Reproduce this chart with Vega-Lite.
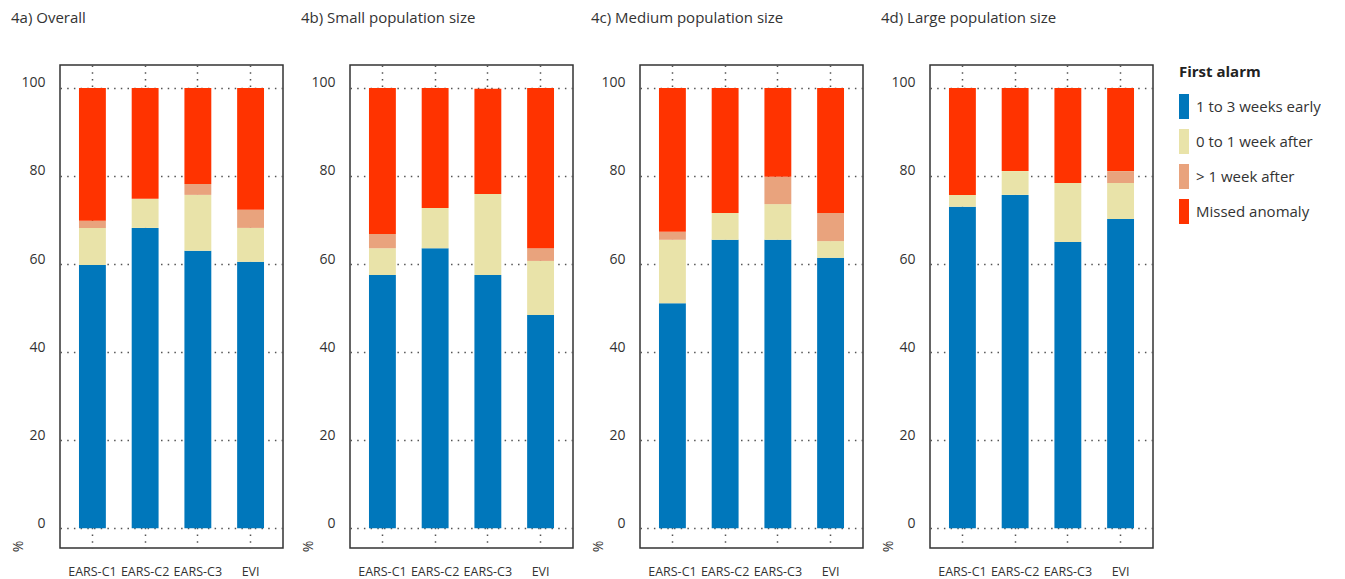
{
  "$schema": "https://vega.github.io/schema/vega-lite/v6.json",
  "autosize": {"type": "pad"},
  "padding": {"left": 10, "top": 10, "right": 0, "bottom": 0},
  "background": "white",
  "datasets": {
    "alarms": [
      {"panel": "a", "method": "EARS-C1", "cat": "1 to 3 weeks early", "ord": 1, "value": 59.8},
      {"panel": "a", "method": "EARS-C1", "cat": "0 to 1 week after", "ord": 2, "value": 8.4},
      {"panel": "a", "method": "EARS-C1", "cat": "> 1 week after", "ord": 3, "value": 1.6},
      {"panel": "a", "method": "EARS-C1", "cat": "Missed anomaly", "ord": 4, "value": 30.2},
      {"panel": "a", "method": "EARS-C2", "cat": "1 to 3 weeks early", "ord": 1, "value": 68.2},
      {"panel": "a", "method": "EARS-C2", "cat": "0 to 1 week after", "ord": 2, "value": 6.6},
      {"panel": "a", "method": "EARS-C2", "cat": "Missed anomaly", "ord": 4, "value": 25.2},
      {"panel": "a", "method": "EARS-C3", "cat": "1 to 3 weeks early", "ord": 1, "value": 63.0},
      {"panel": "a", "method": "EARS-C3", "cat": "0 to 1 week after", "ord": 2, "value": 12.7},
      {"panel": "a", "method": "EARS-C3", "cat": "> 1 week after", "ord": 3, "value": 2.5},
      {"panel": "a", "method": "EARS-C3", "cat": "Missed anomaly", "ord": 4, "value": 21.8},
      {"panel": "a", "method": "EVI", "cat": "1 to 3 weeks early", "ord": 1, "value": 60.5},
      {"panel": "a", "method": "EVI", "cat": "0 to 1 week after", "ord": 2, "value": 7.7},
      {"panel": "a", "method": "EVI", "cat": "> 1 week after", "ord": 3, "value": 4.1},
      {"panel": "a", "method": "EVI", "cat": "Missed anomaly", "ord": 4, "value": 27.7},

      {"panel": "b", "method": "EARS-C1", "cat": "1 to 3 weeks early", "ord": 1, "value": 57.5},
      {"panel": "b", "method": "EARS-C1", "cat": "0 to 1 week after", "ord": 2, "value": 6.1},
      {"panel": "b", "method": "EARS-C1", "cat": "> 1 week after", "ord": 3, "value": 3.2},
      {"panel": "b", "method": "EARS-C1", "cat": "Missed anomaly", "ord": 4, "value": 33.2},
      {"panel": "b", "method": "EARS-C2", "cat": "1 to 3 weeks early", "ord": 1, "value": 63.6},
      {"panel": "b", "method": "EARS-C2", "cat": "0 to 1 week after", "ord": 2, "value": 9.1},
      {"panel": "b", "method": "EARS-C2", "cat": "Missed anomaly", "ord": 4, "value": 27.3},
      {"panel": "b", "method": "EARS-C3", "cat": "1 to 3 weeks early", "ord": 1, "value": 57.5},
      {"panel": "b", "method": "EARS-C3", "cat": "0 to 1 week after", "ord": 2, "value": 18.4},
      {"panel": "b", "method": "EARS-C3", "cat": "Missed anomaly", "ord": 4, "value": 23.9},
      {"panel": "b", "method": "EVI", "cat": "1 to 3 weeks early", "ord": 1, "value": 48.4},
      {"panel": "b", "method": "EVI", "cat": "0 to 1 week after", "ord": 2, "value": 12.3},
      {"panel": "b", "method": "EVI", "cat": "> 1 week after", "ord": 3, "value": 2.9},
      {"panel": "b", "method": "EVI", "cat": "Missed anomaly", "ord": 4, "value": 36.4},

      {"panel": "c", "method": "EARS-C1", "cat": "1 to 3 weeks early", "ord": 1, "value": 51.1},
      {"panel": "c", "method": "EARS-C1", "cat": "0 to 1 week after", "ord": 2, "value": 14.4},
      {"panel": "c", "method": "EARS-C1", "cat": "> 1 week after", "ord": 3, "value": 1.8},
      {"panel": "c", "method": "EARS-C1", "cat": "Missed anomaly", "ord": 4, "value": 32.7},
      {"panel": "c", "method": "EARS-C2", "cat": "1 to 3 weeks early", "ord": 1, "value": 65.5},
      {"panel": "c", "method": "EARS-C2", "cat": "0 to 1 week after", "ord": 2, "value": 6.1},
      {"panel": "c", "method": "EARS-C2", "cat": "Missed anomaly", "ord": 4, "value": 28.4},
      {"panel": "c", "method": "EARS-C3", "cat": "1 to 3 weeks early", "ord": 1, "value": 65.5},
      {"panel": "c", "method": "EARS-C3", "cat": "0 to 1 week after", "ord": 2, "value": 8.1},
      {"panel": "c", "method": "EARS-C3", "cat": "> 1 week after", "ord": 3, "value": 6.2},
      {"panel": "c", "method": "EARS-C3", "cat": "Missed anomaly", "ord": 4, "value": 20.2},
      {"panel": "c", "method": "EVI", "cat": "1 to 3 weeks early", "ord": 1, "value": 61.4},
      {"panel": "c", "method": "EVI", "cat": "0 to 1 week after", "ord": 2, "value": 3.8},
      {"panel": "c", "method": "EVI", "cat": "> 1 week after", "ord": 3, "value": 6.4},
      {"panel": "c", "method": "EVI", "cat": "Missed anomaly", "ord": 4, "value": 28.4},

      {"panel": "d", "method": "EARS-C1", "cat": "1 to 3 weeks early", "ord": 1, "value": 73.0},
      {"panel": "d", "method": "EARS-C1", "cat": "0 to 1 week after", "ord": 2, "value": 2.7},
      {"panel": "d", "method": "EARS-C1", "cat": "Missed anomaly", "ord": 4, "value": 24.3},
      {"panel": "d", "method": "EARS-C2", "cat": "1 to 3 weeks early", "ord": 1, "value": 75.7},
      {"panel": "d", "method": "EARS-C2", "cat": "0 to 1 week after", "ord": 2, "value": 5.4},
      {"panel": "d", "method": "EARS-C2", "cat": "Missed anomaly", "ord": 4, "value": 18.9},
      {"panel": "d", "method": "EARS-C3", "cat": "1 to 3 weeks early", "ord": 1, "value": 65.0},
      {"panel": "d", "method": "EARS-C3", "cat": "0 to 1 week after", "ord": 2, "value": 13.4},
      {"panel": "d", "method": "EARS-C3", "cat": "Missed anomaly", "ord": 4, "value": 21.6},
      {"panel": "d", "method": "EVI", "cat": "1 to 3 weeks early", "ord": 1, "value": 70.2},
      {"panel": "d", "method": "EVI", "cat": "0 to 1 week after", "ord": 2, "value": 8.2},
      {"panel": "d", "method": "EVI", "cat": "> 1 week after", "ord": 3, "value": 2.7},
      {"panel": "d", "method": "EVI", "cat": "Missed anomaly", "ord": 4, "value": 18.9}
    ]
  },
  "data": {"name": "alarms"},
  "spacing": 67,
  "bounds": "flush",
  "resolve": {"scale": {"color": "shared"}},
  "hconcat": [
    {
      "title": "4a) Overall",
      "width": 223, "height": 483,
      "transform": [{"filter": "datum.panel === 'a'"}],
      "mark": {"type": "bar"},
      "encoding": {
        "x": {"field": "method", "type": "nominal", "sort": ["EARS-C1", "EARS-C2", "EARS-C3", "EVI"], "scale": {"paddingInner": 0.49, "paddingOuter": 0.36}, "axis": {"title": null}},
        "y": {"field": "value", "type": "quantitative", "stack": "zero", "scale": {"domain": [-4.5, 105.2], "nice": false, "zero": false}, "axis": {"title": "%", "values": [0, 20, 40, 60, 80, 100]}},
        "color": {"field": "cat", "type": "nominal", "scale": {"domain": ["1 to 3 weeks early", "0 to 1 week after", "> 1 week after", "Missed anomaly"], "range": ["#0077BB", "#E9E3A9", "#E9A37D", "#FF3300"]}, "legend": {"title": "First alarm"}},
        "order": {"field": "ord", "type": "quantitative", "sort": "ascending"}
      }
    },
    {
      "title": "4b) Small population size",
      "width": 223, "height": 483,
      "transform": [{"filter": "datum.panel === 'b'"}],
      "mark": {"type": "bar"},
      "encoding": {
        "x": {"field": "method", "type": "nominal", "sort": ["EARS-C1", "EARS-C2", "EARS-C3", "EVI"], "scale": {"paddingInner": 0.49, "paddingOuter": 0.36}, "axis": {"title": null}},
        "y": {"field": "value", "type": "quantitative", "stack": "zero", "scale": {"domain": [-4.5, 105.2], "nice": false, "zero": false}, "axis": {"title": "%", "values": [0, 20, 40, 60, 80, 100]}},
        "color": {"field": "cat", "type": "nominal", "scale": {"domain": ["1 to 3 weeks early", "0 to 1 week after", "> 1 week after", "Missed anomaly"], "range": ["#0077BB", "#E9E3A9", "#E9A37D", "#FF3300"]}, "legend": {"title": "First alarm"}},
        "order": {"field": "ord", "type": "quantitative", "sort": "ascending"}
      }
    },
    {
      "title": "4c) Medium population size",
      "width": 223, "height": 483,
      "transform": [{"filter": "datum.panel === 'c'"}],
      "mark": {"type": "bar"},
      "encoding": {
        "x": {"field": "method", "type": "nominal", "sort": ["EARS-C1", "EARS-C2", "EARS-C3", "EVI"], "scale": {"paddingInner": 0.49, "paddingOuter": 0.36}, "axis": {"title": null}},
        "y": {"field": "value", "type": "quantitative", "stack": "zero", "scale": {"domain": [-4.5, 105.2], "nice": false, "zero": false}, "axis": {"title": "%", "values": [0, 20, 40, 60, 80, 100]}},
        "color": {"field": "cat", "type": "nominal", "scale": {"domain": ["1 to 3 weeks early", "0 to 1 week after", "> 1 week after", "Missed anomaly"], "range": ["#0077BB", "#E9E3A9", "#E9A37D", "#FF3300"]}, "legend": {"title": "First alarm"}},
        "order": {"field": "ord", "type": "quantitative", "sort": "ascending"}
      }
    },
    {
      "title": "4d) Large population size",
      "width": 223, "height": 483,
      "transform": [{"filter": "datum.panel === 'd'"}],
      "mark": {"type": "bar"},
      "encoding": {
        "x": {"field": "method", "type": "nominal", "sort": ["EARS-C1", "EARS-C2", "EARS-C3", "EVI"], "scale": {"paddingInner": 0.49, "paddingOuter": 0.36}, "axis": {"title": null}},
        "y": {"field": "value", "type": "quantitative", "stack": "zero", "scale": {"domain": [-4.5, 105.2], "nice": false, "zero": false}, "axis": {"title": "%", "values": [0, 20, 40, 60, 80, 100]}},
        "color": {"field": "cat", "type": "nominal", "scale": {"domain": ["1 to 3 weeks early", "0 to 1 week after", "> 1 week after", "Missed anomaly"], "range": ["#0077BB", "#E9E3A9", "#E9A37D", "#FF3300"]}, "legend": {"title": "First alarm"}},
        "order": {"field": "ord", "type": "quantitative", "sort": "ascending"}
      }
    }
  ],
  "config": {
    "font": "Open Sans",
    "view": {"stroke": "#333333", "strokeWidth": 1.5},
    "axis": {
      "domain": false,
      "ticks": false,
      "grid": true,
      "gridColor": "#555555",
      "gridDash": [1.5, 5.2],
      "gridWidth": 1.5,
      "gridOpacity": 1,
      "labelColor": "#333333",
      "labelFont": "Open Sans",
      "titleColor": "#333333",
      "titleFont": "Open Sans"
    },
    "axisX": {"labelFontSize": 12.5, "labelPadding": 17, "labelAngle": 0},
    "axisY": {
      "labelFontSize": 14, "labelPadding": 15, "labelOffset": -5,
      "titleFontSize": 14, "titleFontWeight": "normal", "titleAngle": 270,
      "titleX": -42, "titleY": 481, "titleAlign": "center", "titleBaseline": "middle"
    },
    "title": {
      "anchor": "start", "frame": "group", "fontSize": 15, "fontWeight": "normal", "color": "#333333",
      "font": "Open Sans", "dx": -49, "offset": 39, "baseline": "alphabetic"
    },
    "legend": {
      "orient": "none", "legendX": 1119, "legendY": 0,
      "titleFontSize": 15, "titleFontWeight": "bold", "titleColor": "#222222", "titleFont": "Open Sans",
      "titlePadding": 14,
      "labelFontSize": 15, "labelColor": "#333333", "labelFont": "Open Sans", "labelOffset": -8,
      "symbolType": "M-1,-1H-0.2V1H-1Z", "symbolSize": 625, "symbolStrokeWidth": 0, "symbolOpacity": 1,
      "rowPadding": 10
    }
  }
}
